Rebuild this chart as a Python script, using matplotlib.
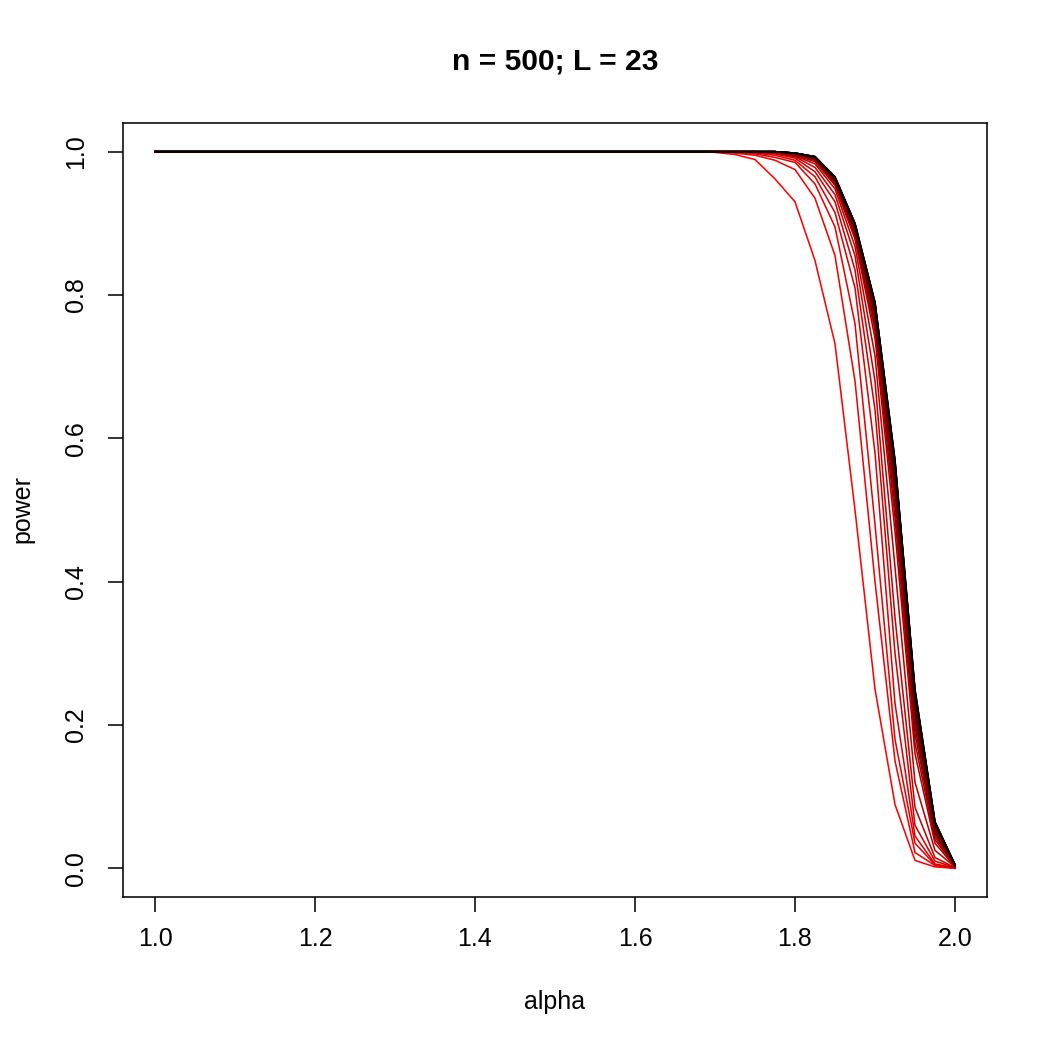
import matplotlib
matplotlib.use("Agg")
import matplotlib.pyplot as plt
import numpy as np

plt.rcParams['font.family'] = ['Liberation Sans', 'DejaVu Sans']

# alpha grid: 1.0 to 2.0 by 0.025
alpha = [round(1.0 + 0.025 * i, 3) for i in range(41)]

# flat part (alpha 1.0 .. 1.675) is power 1.0 for all curves
flat = [1.0] * 28

# tail values at alpha = 1.7, 1.725, ..., 2.0  (one list per curve, red -> black)
tail_01 = [0.999, 0.996, 0.989, 0.962, 0.930, 0.848, 0.732, 0.500, 0.250, 0.089, 0.011, 0.002, 0.000]
tail_02 = [1.000, 0.998, 0.995, 0.988, 0.975, 0.935, 0.855, 0.680, 0.400, 0.150, 0.022, 0.004, 0.000]
tail_03 = [1.000, 0.999, 0.997, 0.992, 0.985, 0.955, 0.895, 0.760, 0.480, 0.180, 0.035, 0.005, 0.000]
tail_04 = [1.000, 1.000, 0.998, 0.995, 0.988, 0.965, 0.915, 0.810, 0.580, 0.230, 0.045, 0.006, 0.001]
tail_05 = [1.000, 1.000, 0.999, 0.997, 0.991, 0.972, 0.930, 0.835, 0.640, 0.300, 0.060, 0.010, 0.001]
tail_06 = [1.000, 1.000, 1.000, 0.998, 0.993, 0.978, 0.940, 0.855, 0.680, 0.350, 0.085, 0.015, 0.001]
tail_07 = [1.000, 1.000, 1.000, 0.999, 0.994, 0.983, 0.948, 0.868, 0.715, 0.420, 0.120, 0.025, 0.002]
tail_08 = [1.000, 1.000, 1.000, 0.999, 0.995, 0.986, 0.953, 0.878, 0.740, 0.470, 0.160, 0.035, 0.002]
tail_09 = [1.000, 1.000, 1.000, 0.999, 0.996, 0.988, 0.955, 0.882, 0.750, 0.490, 0.175, 0.040, 0.003]
tail_10 = [1.000, 1.000, 1.000, 1.000, 0.996, 0.989, 0.957, 0.885, 0.758, 0.505, 0.188, 0.044, 0.003]
tail_11 = [1.000, 1.000, 1.000, 1.000, 0.997, 0.990, 0.958, 0.888, 0.764, 0.518, 0.198, 0.048, 0.004]
tail_12 = [1.000, 1.000, 1.000, 1.000, 0.997, 0.990, 0.959, 0.890, 0.769, 0.528, 0.207, 0.051, 0.004]
tail_13 = [1.000, 1.000, 1.000, 1.000, 0.997, 0.991, 0.960, 0.892, 0.773, 0.536, 0.215, 0.054, 0.004]
tail_14 = [1.000, 1.000, 1.000, 1.000, 0.997, 0.991, 0.961, 0.893, 0.776, 0.543, 0.222, 0.056, 0.004]
tail_15 = [1.000, 1.000, 1.000, 1.000, 0.998, 0.992, 0.962, 0.895, 0.779, 0.549, 0.228, 0.058, 0.005]
tail_16 = [1.000, 1.000, 1.000, 1.000, 0.998, 0.992, 0.962, 0.896, 0.782, 0.554, 0.233, 0.060, 0.005]
tail_17 = [1.000, 1.000, 1.000, 1.000, 0.998, 0.992, 0.963, 0.897, 0.784, 0.558, 0.237, 0.061, 0.005]
tail_18 = [1.000, 1.000, 1.000, 1.000, 0.998, 0.993, 0.963, 0.898, 0.786, 0.561, 0.241, 0.062, 0.005]
tail_19 = [1.000, 1.000, 1.000, 1.000, 0.998, 0.993, 0.964, 0.898, 0.787, 0.564, 0.244, 0.063, 0.005]
tail_20 = [1.000, 1.000, 1.000, 1.000, 0.998, 0.993, 0.964, 0.899, 0.788, 0.566, 0.246, 0.064, 0.005]
tail_21 = [1.000, 1.000, 1.000, 1.000, 0.998, 0.993, 0.964, 0.899, 0.789, 0.568, 0.248, 0.064, 0.005]
tail_22 = [1.000, 1.000, 1.000, 1.000, 0.998, 0.993, 0.965, 0.900, 0.790, 0.569, 0.249, 0.065, 0.005]
tail_23 = [1.000, 1.000, 1.000, 1.000, 0.998, 0.993, 0.965, 0.900, 0.790, 0.570, 0.250, 0.065, 0.005]

tails = [tail_01, tail_02, tail_03, tail_04, tail_05, tail_06, tail_07, tail_08,
         tail_09, tail_10, tail_11, tail_12, tail_13, tail_14, tail_15, tail_16,
         tail_17, tail_18, tail_19, tail_20, tail_21, tail_22, tail_23]

x_ticks = [1.0, 1.2, 1.4, 1.6, 1.8, 2.0]
y_ticks = [0.0, 0.2, 0.4, 0.6, 0.8, 1.0]
title = "n = 500; L = 23"

fig = plt.figure(figsize=(7, 7), dpi=150)
ax = fig.add_axes([123 / 1050, 1 - 897 / 1050, (987 - 123) / 1050, (897 - 123) / 1050])

n = len(tails)
for i, t in enumerate(tails):
    r = 1.0 - i / (n - 1)
    ax.plot(alpha, flat + t, color=(r, 0, 0), lw=0.75, solid_joinstyle='miter')

ax.set_xlim(0.96, 2.04)
ax.set_ylim(-0.04, 1.04)
ax.set_xticks(x_ticks)
ax.set_xticklabels([f"{v:.1f}" for v in x_ticks])
ax.set_yticks(y_ticks)
ax.set_yticklabels([f"{v:.1f}" for v in y_ticks], rotation=90, va='center')
ax.tick_params(axis='both', direction='out', length=7.2, width=0.75, labelsize=12)
ax.tick_params(axis='x', pad=7)
ax.tick_params(axis='y', pad=9.5)
for s in ax.spines.values():
    s.set_linewidth(0.75)

fig.text(555 / 1050, 1 - 1002 / 1050, "alpha", ha='center', va='center', fontsize=12)
fig.text(22 / 1050, 1 - 509 / 1050, "power", ha='center', va='center', rotation=90, fontsize=12)
fig.text(555 / 1050, 1 - 62 / 1050, title, ha='center', va='center', fontsize=14.4, fontweight='bold')

fig.savefig("out.png", dpi=150, facecolor='white')
